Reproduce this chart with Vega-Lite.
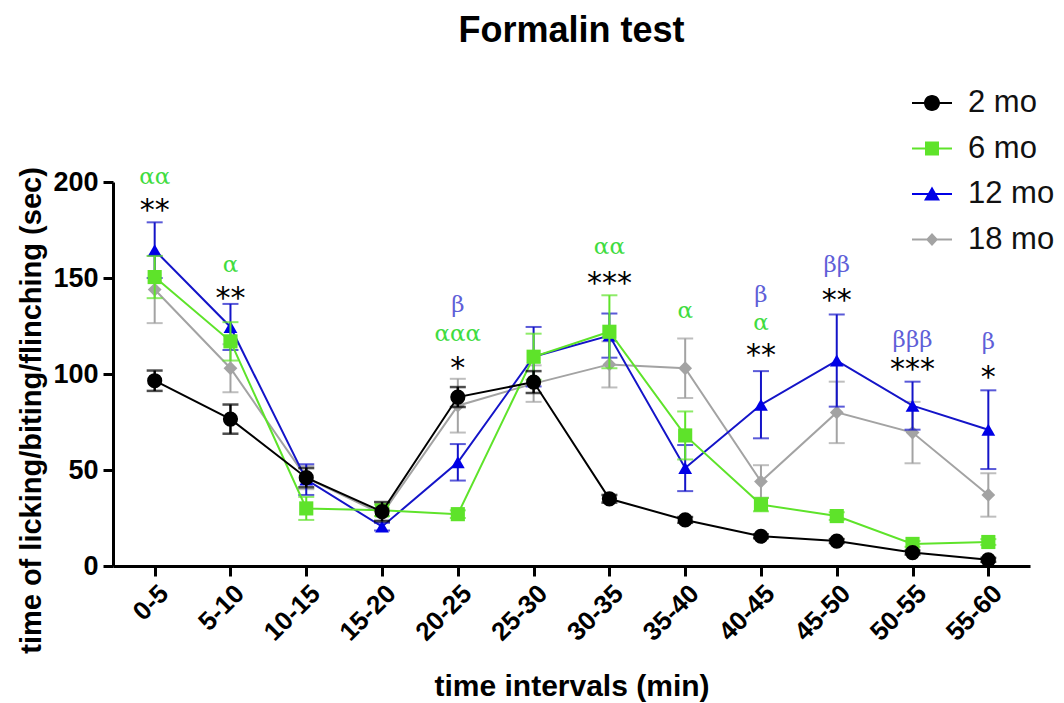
{
  "$schema": "https://vega.github.io/schema/vega-lite/v6.json",
  "width": 917,
  "height": 384,
  "autosize": {"type": "none"},
  "padding": {"left": 113, "top": 182, "right": 34, "bottom": 137},
  "background": "white",
  "title": {"text": "Formalin test", "font": "Liberation Sans", "fontSize": 36, "fontWeight": "bold", "color": "#000", "anchor": "middle", "frame": "group", "offset": 33},
  "config": {
    "view": {"stroke": null},
    "font": "Liberation Sans",
    "axis": {"grid": false, "domainColor": "#000", "domainWidth": 3, "tickColor": "#000", "tickWidth": 3, "tickSize": 10, "labelFont": "Liberation Sans", "labelFontWeight": "bold", "labelColor": "#000", "titleFont": "Liberation Sans", "titleFontWeight": "bold", "titleColor": "#000"},
    "axisY": {"labelFontSize": 27, "labelPadding": 5, "titleFontSize": 29, "titlePadding": 6, "titleY": 228},
    "axisX": {"labelAngle": -45, "labelFontSize": 26, "labelPadding": 4, "titleFontSize": 30, "titlePadding": 26}
  },
  "datasets": {
    "m": [
      {"t": "0-5", "g": "2 mo", "mean": 96.5, "se": 5.3},
      {"t": "5-10", "g": "2 mo", "mean": 76.5, "se": 7.6},
      {"t": "10-15", "g": "2 mo", "mean": 46, "se": 5},
      {"t": "15-20", "g": "2 mo", "mean": 28.3, "se": 5},
      {"t": "20-25", "g": "2 mo", "mean": 88, "se": 5.2},
      {"t": "25-30", "g": "2 mo", "mean": 95.8, "se": 5.7},
      {"t": "30-35", "g": "2 mo", "mean": 35, "se": 2},
      {"t": "35-40", "g": "2 mo", "mean": 24, "se": 1.5},
      {"t": "40-45", "g": "2 mo", "mean": 15.5, "se": 1},
      {"t": "45-50", "g": "2 mo", "mean": 13, "se": 1},
      {"t": "50-55", "g": "2 mo", "mean": 7, "se": 1},
      {"t": "55-60", "g": "2 mo", "mean": 3.2, "se": 1},
      {"t": "0-5", "g": "6 mo", "mean": 150.5, "se": 11},
      {"t": "5-10", "g": "6 mo", "mean": 117, "se": 10},
      {"t": "10-15", "g": "6 mo", "mean": 30, "se": 6},
      {"t": "15-20", "g": "6 mo", "mean": 29, "se": 3},
      {"t": "20-25", "g": "6 mo", "mean": 27, "se": 2},
      {"t": "25-30", "g": "6 mo", "mean": 109, "se": 12},
      {"t": "30-35", "g": "6 mo", "mean": 122, "se": 19},
      {"t": "35-40", "g": "6 mo", "mean": 68, "se": 12.5},
      {"t": "40-45", "g": "6 mo", "mean": 32, "se": 3.5},
      {"t": "45-50", "g": "6 mo", "mean": 26, "se": 2},
      {"t": "50-55", "g": "6 mo", "mean": 11.5, "se": 1.5},
      {"t": "55-60", "g": "6 mo", "mean": 12.5, "se": 1.5},
      {"t": "0-5", "g": "12 mo", "mean": 164.5, "se": 14.5},
      {"t": "5-10", "g": "12 mo", "mean": 124.5, "se": 12},
      {"t": "10-15", "g": "12 mo", "mean": 45, "se": 8},
      {"t": "15-20", "g": "12 mo", "mean": 20.5, "se": 2},
      {"t": "20-25", "g": "12 mo", "mean": 54, "se": 9.5},
      {"t": "25-30", "g": "12 mo", "mean": 109, "se": 15.5},
      {"t": "30-35", "g": "12 mo", "mean": 120, "se": 11.5},
      {"t": "35-40", "g": "12 mo", "mean": 51, "se": 12},
      {"t": "40-45", "g": "12 mo", "mean": 84, "se": 17.5},
      {"t": "45-50", "g": "12 mo", "mean": 107, "se": 24},
      {"t": "50-55", "g": "12 mo", "mean": 83.5, "se": 12.5},
      {"t": "55-60", "g": "12 mo", "mean": 71, "se": 20.5},
      {"t": "0-5", "g": "18 mo", "mean": 144, "se": 17.5},
      {"t": "5-10", "g": "18 mo", "mean": 103, "se": 12.5},
      {"t": "10-15", "g": "18 mo", "mean": 46, "se": 6},
      {"t": "15-20", "g": "18 mo", "mean": 27, "se": 3},
      {"t": "20-25", "g": "18 mo", "mean": 83.5, "se": 14},
      {"t": "25-30", "g": "18 mo", "mean": 95, "se": 9.5},
      {"t": "30-35", "g": "18 mo", "mean": 105, "se": 12},
      {"t": "35-40", "g": "18 mo", "mean": 103, "se": 15.5},
      {"t": "40-45", "g": "18 mo", "mean": 44, "se": 8.5},
      {"t": "45-50", "g": "18 mo", "mean": 80, "se": 16},
      {"t": "50-55", "g": "18 mo", "mean": 69.5, "se": 16},
      {"t": "55-60", "g": "18 mo", "mean": 37, "se": 11.3}
    ],
    "ann": [
      {"t": "0-5", "y": 202.6, "label": "αα", "kind": "a"},
      {"t": "0-5", "y": 189, "label": "**", "kind": "s"},
      {"t": "5-10", "y": 157, "label": "α", "kind": "a"},
      {"t": "5-10", "y": 143, "label": "**", "kind": "s"},
      {"t": "20-25", "y": 136, "label": "β", "kind": "b"},
      {"t": "20-25", "y": 121, "label": "ααα", "kind": "a"},
      {"t": "20-25", "y": 107, "label": "*", "kind": "s"},
      {"t": "30-35", "y": 166, "label": "αα", "kind": "a"},
      {"t": "30-35", "y": 151, "label": "***", "kind": "s"},
      {"t": "35-40", "y": 133, "label": "α", "kind": "a"},
      {"t": "40-45", "y": 141, "label": "β", "kind": "b"},
      {"t": "40-45", "y": 126.5, "label": "α", "kind": "a"},
      {"t": "40-45", "y": 113.5, "label": "**", "kind": "s"},
      {"t": "45-50", "y": 157, "label": "ββ", "kind": "b"},
      {"t": "45-50", "y": 142, "label": "**", "kind": "s"},
      {"t": "50-55", "y": 117.5, "label": "βββ", "kind": "b"},
      {"t": "50-55", "y": 106, "label": "***", "kind": "s"},
      {"t": "55-60", "y": 116.5, "label": "β", "kind": "b"},
      {"t": "55-60", "y": 102, "label": "*", "kind": "s"}
    ]
  },
  "data": {"name": "m"},
  "encoding": {
    "x": {"field": "t", "type": "ordinal", "title": "time intervals (min)",
          "scale": {"type": "point", "padding": 0.55, "domain": ["0-5","5-10","10-15","15-20","20-25","25-30","30-35","35-40","40-45","45-50","50-55","55-60"]}},
    "y": {"field": "mean", "type": "quantitative", "title": "time of licking/biting/flinching (sec)",
          "scale": {"domain": [0, 200], "nice": false, "zero": true},
          "axis": {"values": [0, 50, 100, 150, 200]}}
  },
  "layer": [
    {
      "transform": [{"filter": "datum.g === '18 mo'"}],
      "layer": [
        {"mark": {"type": "errorbar", "color": "#a3a3a3", "ticks": true, "size": 16, "thickness": 2}, "encoding": {"yError": {"field": "se"}}},
        {"mark": {"type": "line", "color": "#a3a3a3", "strokeWidth": 2}},
        {"mark": {"type": "point", "shape": "diamond", "filled": true, "color": "#a3a3a3", "opacity": 1, "size": 190}}
      ]
    },
    {
      "transform": [{"filter": "datum.g === '12 mo'"}],
      "layer": [
        {"mark": {"type": "errorbar", "color": "#1414c8", "ticks": true, "size": 16, "thickness": 2}, "encoding": {"yError": {"field": "se"}}},
        {"mark": {"type": "line", "color": "#1414c8", "strokeWidth": 2}},
        {"mark": {"type": "point", "shape": "triangle-up", "filled": true, "color": "#0000e6", "opacity": 1, "size": 190}}
      ]
    },
    {
      "transform": [{"filter": "datum.g === '6 mo'"}],
      "layer": [
        {"mark": {"type": "errorbar", "color": "#5ee32a", "ticks": true, "size": 16, "thickness": 2}, "encoding": {"yError": {"field": "se"}}},
        {"mark": {"type": "line", "color": "#5ee32a", "strokeWidth": 2}},
        {"mark": {"type": "point", "shape": "square", "filled": true, "color": "#5ee32a", "opacity": 1, "size": 200}}
      ]
    },
    {
      "transform": [{"filter": "datum.g === '2 mo'"}],
      "layer": [
        {"mark": {"type": "errorbar", "color": "#000000", "ticks": true, "size": 16, "thickness": 2.5}, "encoding": {"yError": {"field": "se"}}},
        {"mark": {"type": "line", "color": "#000000", "strokeWidth": 2}},
        {"mark": {"type": "point", "shape": "circle", "filled": true, "color": "#000000", "opacity": 1, "size": 230}}
      ]
    },
    {
      "transform": [{"filter": "false"}],
      "mark": {"type": "point", "filled": true, "opacity": 1, "size": 1600},
      "encoding": {
        "color": {"field": "g", "type": "nominal",
                  "scale": {"domain": ["2 mo", "6 mo", "12 mo", "18 mo"], "range": ["#000000", "#5ee32a", "#0000e6", "#a3a3a3"]},
                  "legend": {"orient": "none", "legendX": 799, "legendY": -99, "title": null, "symbolSize": 1600, "symbolStrokeWidth": 0, "labelFontSize": 31, "labelFont": "Liberation Sans", "labelColor": "#111", "labelOffset": 16, "rowPadding": 10.5, "padding": 0, "labelLimit": 300}},
        "shape": {"field": "g", "type": "nominal",
                  "scale": {"domain": ["2 mo", "6 mo", "12 mo", "18 mo"],
                            "range": [
                              "M-1,-0.05H1V0.05H-1ZM-0.4,0A0.4,0.4,0,0,1,0.4,0A0.4,0.4,0,0,1,-0.4,0Z",
                              "M-1,-0.05H1V0.05H-1ZM-0.35,-0.35H0.35V0.35H-0.35Z",
                              "M-1,-0.05H1V0.05H-1ZM0,-0.38L0.4,0.32H-0.4Z",
                              "M-1,-0.05H1V0.05H-1ZM0,-0.32L0.3,0L0,0.32L-0.3,0Z"
                            ]}}
      }
    },
    {
      "data": {"name": "ann"},
      "transform": [{"filter": "datum.kind === 's'"}],
      "mark": {"type": "text", "baseline": "middle", "font": "DejaVu Sans", "fontSize": 30, "dy": 8, "color": "#000"},
      "encoding": {
        "y": {"field": "y", "type": "quantitative", "title": "time of licking/biting/flinching (sec)"},
        "text": {"field": "label"}
      }
    },
    {
      "data": {"name": "ann"},
      "transform": [{"filter": "datum.kind !== 's'"}],
      "mark": {"type": "text", "baseline": "middle", "font": "DejaVu Serif", "fontSize": 23, "dy": 0},
      "encoding": {
        "y": {"field": "y", "type": "quantitative", "title": "time of licking/biting/flinching (sec)"},
        "text": {"field": "label"},
        "color": {"condition": {"test": "datum.kind === 'a'", "value": "#3fdc3f"}, "value": "#5f5fd8"}
      }
    }
  ]
}
